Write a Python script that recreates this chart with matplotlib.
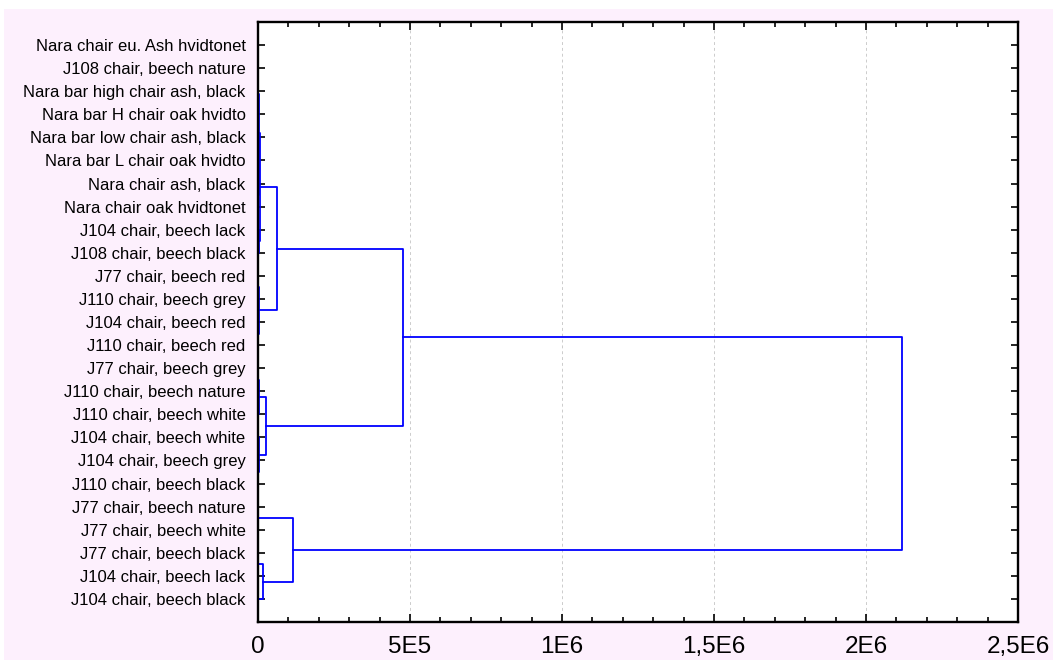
import matplotlib
matplotlib.use("Agg")
import matplotlib.pyplot as plt
from matplotlib.patches import Rectangle
from matplotlib.ticker import FixedLocator, FixedFormatter, MultipleLocator

plt.rcParams['font.family'] = ['Liberation Sans', 'DejaVu Sans']

# leaf labels, top to bottom
leaves = ["Nara chair eu. Ash hvidtonet", "J108 chair, beech nature",
          "Nara bar high chair ash, black", "Nara bar H chair oak hvidto",
          "Nara bar low chair ash, black", "Nara bar L chair oak hvidto",
          "Nara chair ash, black", "Nara chair oak hvidtonet",
          "J104 chair, beech lack", "J108 chair, beech black",
          "J77 chair, beech red", "J110 chair, beech grey",
          "J104 chair, beech red", "J110 chair, beech red",
          "J77 chair, beech grey", "J110 chair, beech nature",
          "J110 chair, beech white", "J104 chair, beech white",
          "J104 chair, beech grey", "J110 chair, beech black",
          "J77 chair, beech nature", "J77 chair, beech white",
          "J77 chair, beech black", "J104 chair, beech lack",
          "J104 chair, beech black"]

# merges: (child a, child b, linkage distance); ids >= 25 are earlier merges
merge_a = [0, 25, 26, 4, 6, 28, 27, 8, 31, 10, 12, 34, 33,
           14, 38, 18, 17, 39, 37, 20, 22, 45, 44, 43]
merge_b = [1, 2, 3, 5, 7, 29, 30, 9, 32, 11, 13, 35, 36,
           15, 16, 19, 40, 41, 42, 21, 23, 24, 46, 47]
merge_d = [0, 0, 0, 2000, 1500, 3000, 4000, 2500, 8000, 0, 0, 2500, 62500,
           1500, 3000, 1500, 2000, 25000, 477000, 0, 1000, 16000, 115000, 2120000]

xticks = [0, 5e5, 1e6, 1.5e6, 2e6, 2.5e6]
xlabels = ["0", "5E5", "1E6", "1,5E6", "2E6", "2,5E6"]

fig = plt.figure(figsize=(10.53, 6.63), dpi=100, facecolor="white")
fig.patches.append(Rectangle((4 / 1053, 3 / 663), 1, 651 / 663,
                             transform=fig.transFigure, facecolor="#fdf0fd",
                             edgecolor="none", zorder=-10))
ax = fig.add_axes([258 / 1053, 41 / 663, 760 / 1053, 600 / 663])
ax.set_facecolor("white")

n = len(leaves)
pos = [i + 1 for i in range(n)]
height = [0.0] * n
for a, b, d in zip(merge_a, merge_b, merge_d):
    ax.plot([height[a], d, d, height[b]], [pos[a], pos[a], pos[b], pos[b]],
            color="#0000ff", lw=1.3, zorder=2)
    pos.append((pos[a] + pos[b]) / 2)
    height.append(d)

ax.set_xlim(0, 2.5e6)
ax.set_ylim(n + 1, 0)
ax.xaxis.set_major_locator(FixedLocator(xticks))
ax.xaxis.set_major_formatter(FixedFormatter(xlabels))
ax.xaxis.set_minor_locator(MultipleLocator(1e5))
ax.set_yticks(range(1, n + 1))
ax.set_yticklabels(leaves)
ax.tick_params(axis="both", which="both", direction="in", top=True, right=True,
               color="black", width=1.2)
ax.tick_params(axis="x", which="major", length=6, labelsize=17.5, pad=10)
ax.tick_params(axis="x", which="minor", length=3.5)
ax.tick_params(axis="y", length=5, labelsize=12, pad=9)
ax.grid(axis="x", which="major", color="#cccccc", linestyle=(0, (3, 3)), lw=0.7)
ax.set_axisbelow(True)
for s in ax.spines.values():
    s.set_linewidth(1.7)
    s.set_zorder(3)

fig.savefig("out.png", dpi=100, facecolor=fig.get_facecolor())
